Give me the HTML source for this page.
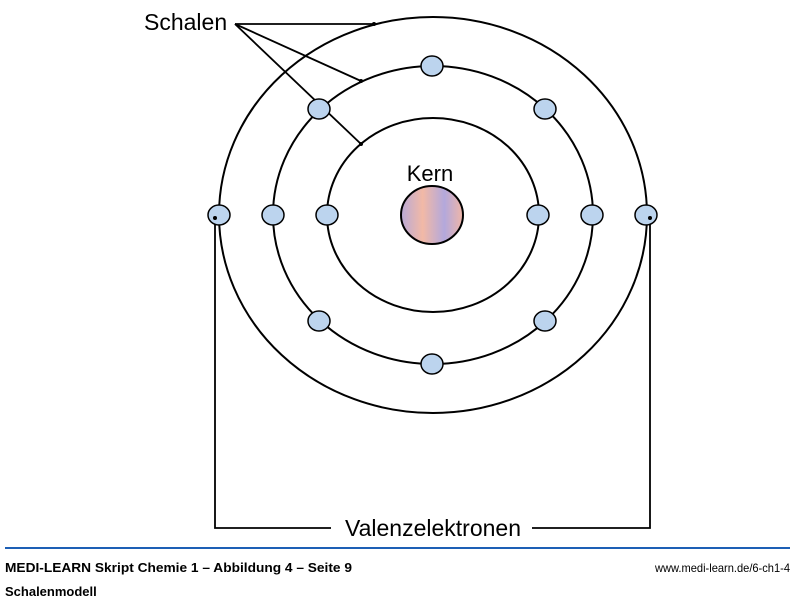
<!DOCTYPE html>
<html><head><style>
body{margin:0;background:#fff;width:800px;height:602px;overflow:hidden}
svg{display:block}
text{font-family:"Liberation Sans Narrow","Liberation Sans",sans-serif}
</style></head><body>
<svg width="800" height="602" viewBox="0 0 800 602">
<defs>
<linearGradient id="k" x1="0" x2="1" y1="0" y2="0">
<stop offset="0" stop-color="#b9a9d6"/><stop offset="0.35" stop-color="#f2b9a6"/><stop offset="0.7" stop-color="#b3a8dc"/><stop offset="1" stop-color="#f0b6a7"/>
</linearGradient>
</defs>
<g fill="none" stroke="#000" stroke-width="2">
<ellipse cx="433" cy="215" rx="214" ry="198"/>
<ellipse cx="433" cy="215" rx="160" ry="149"/>
<ellipse cx="433" cy="215" rx="106" ry="97"/>
</g>
<g stroke="#000" stroke-width="1.8" fill="none">
<line x1="235" y1="24" x2="374" y2="24"/>
<line x1="235" y1="24" x2="361" y2="81"/>
<line x1="235" y1="24" x2="361" y2="144"/>
<polyline points="215,217 215,528 331,528"/>
<polyline points="650,217 650,528 532,528"/>
</g>
<g fill="#000"><circle cx="374" cy="24" r="2"/><circle cx="361" cy="81" r="2"/><circle cx="361" cy="144" r="2"/></g>
<ellipse cx="432" cy="215" rx="31" ry="29" fill="url(#k)" stroke="#000" stroke-width="2"/>
<g fill="#bcd4ee" stroke="#000" stroke-width="1.5">
<ellipse cx="432" cy="66" rx="11" ry="10"/>
<ellipse cx="432" cy="364" rx="11" ry="10"/>
<ellipse cx="319" cy="109" rx="11" ry="10"/>
<ellipse cx="545" cy="109" rx="11" ry="10"/>
<ellipse cx="319" cy="321" rx="11" ry="10"/>
<ellipse cx="545" cy="321" rx="11" ry="10"/>
<ellipse cx="219" cy="215" rx="11" ry="10"/>
<ellipse cx="273" cy="215" rx="11" ry="10"/>
<ellipse cx="327" cy="215" rx="11" ry="10"/>
<ellipse cx="538" cy="215" rx="11" ry="10"/>
<ellipse cx="592" cy="215" rx="11" ry="10"/>
<ellipse cx="646" cy="215" rx="11" ry="10"/>
</g>
<circle cx="215" cy="218" r="2"/><circle cx="650" cy="218" r="2"/>
<text x="144" y="30" font-size="23">Schalen</text>
<text x="430" y="181" font-size="22" text-anchor="middle">Kern</text>
<text x="433" y="536" font-size="23" text-anchor="middle">Valenzelektronen</text>
<line x1="5" y1="548" x2="790" y2="548" stroke="#1d5fb5" stroke-width="2"/>
<text x="5" y="572" font-size="13" font-weight="bold" textLength="347" lengthAdjust="spacingAndGlyphs">MEDI-LEARN Skript Chemie 1 – Abbildung 4 – Seite 9</text>
<text x="655" y="572" font-size="12" textLength="135" lengthAdjust="spacingAndGlyphs">www.medi-learn.de/6-ch1-4</text>
<text x="5" y="596" font-size="13" font-weight="bold">Schalenmodell</text>
</svg>
</body></html>
